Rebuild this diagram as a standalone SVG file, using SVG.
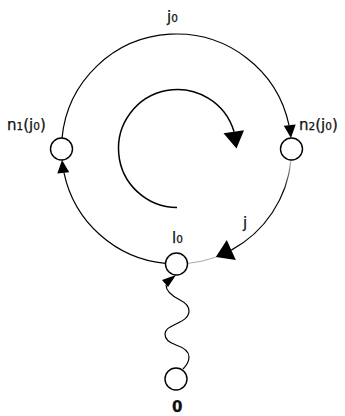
<svg xmlns="http://www.w3.org/2000/svg" width="345" height="416" viewBox="0 0 345 416">
<defs>
<style>
.node{fill:#fff;stroke:#000;stroke-width:1.4}
.edge{fill:none;stroke:#000;stroke-width:1.2}
.faint{fill:none;stroke:#aaa;stroke-width:1}
.head{fill:#000;stroke:none}
.lbl{font-family:"DejaVu Sans",sans-serif;font-size:15px;fill:#111;stroke:#111;stroke-width:0.25}
.sub{font-size:10.5px}
</style>
<linearGradient id="fade" x1="0" y1="0" x2="0" y2="1">
<stop offset="0" stop-color="#bbb"/>
<stop offset="0.35" stop-color="#000"/>
<stop offset="1" stop-color="#000"/>
</linearGradient>
</defs>
<rect width="345" height="416" fill="#fff"/>
<g id="connectors">
<path class="edge" d="M62.03 138.02 A115 115 0 0 1 289 125.17"/>
<polygon class="head" points="290.97,138.02 295.7,124.5 283.76,125.65"/>
<path class="edge" style="stroke:url(#fade)" d="M290.97 159.98 A115 115 0 0 1 231.3 250.1"/>
<polygon class="head" points="215.8,257.1 226.8,240.1 235.8,260.1"/>
<path class="faint" d="M215.8 257.1 A115 115 0 0 1 187.48 263.47"/>
<path class="edge" d="M165.52 263.47 A115 115 0 0 1 64 172.83"/>
<polygon class="head" points="62.03,159.98 69.24,172.35 57.3,173.49"/>
<path class="edge" style="stroke-width:1.5" d="M177 207.5 A59 59 0 1 1 234.07 131.74"/>
<polygon class="head" points="236.5,148.5 244,130.3 223.5,133.3"/>
<path class="edge" d="M166 285 C166 292 174 297 180 300 C186 303 189 306 189 311 C189 318 182 321 176 324 C170 327 165 329 165 334 C165 340 170 343 176 345 C182 347 189 351 189 357 C189 362 186 366 183 369"/>
<polygon class="head" points="176,275 162,280 168,287"/>
</g>
<g id="n1">
<circle class="node" cx="61.5" cy="149" r="11"/>
<text class="lbl" x="7" y="130">n<tspan class="sub">1</tspan>(j<tspan class="sub">0</tspan>)</text>
</g>
<g id="n2">
<circle class="node" cx="291.5" cy="149" r="11"/>
<text class="lbl" x="299" y="130">n<tspan class="sub">2</tspan>(j<tspan class="sub">0</tspan>)</text>
</g>
<g id="l0">
<circle class="node" cx="176.5" cy="264" r="11"/>
<text class="lbl" x="172" y="243">l<tspan class="sub">0</tspan></text>
</g>
<g id="n0">
<circle class="node" cx="176" cy="379" r="11"/>
<text class="lbl" x="172" y="412" style="font-weight:bold">0</text>
</g>
<g id="labels">
<text class="lbl" x="167" y="22">j<tspan class="sub">0</tspan></text>
<text class="lbl" x="243" y="228">j</text>
</g>
</svg>
